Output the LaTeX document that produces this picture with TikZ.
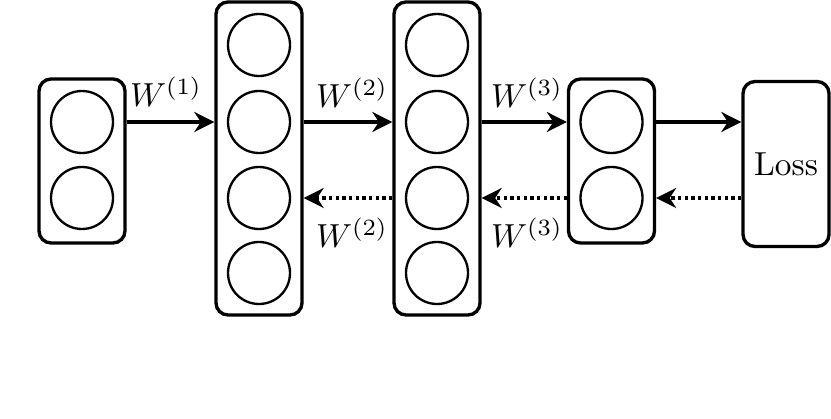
\documentclass[tikz,border=0pt]{standalone}
\usepackage{amsmath}
\usetikzlibrary{arrows.meta}

\begin{document}
\begin{tikzpicture}[
    x=0.3pt, y=-0.3pt,
    layer/.style={
        draw, line width=1pt, rounded corners=3.6pt,
        minimum width=25.8pt, minimum height=#1, inner sep=0pt,
    },
    unit/.style={draw, line width=0.7pt, circle, minimum size=18.6pt, inner sep=0pt},
    fwd/.style={-{Stealth[length=6pt, width=6pt]}, line width=1pt},
    bwd/.style={-{Stealth[length=6pt, width=6pt]}, line width=1pt, densely dotted},
    wlabel/.style={font=\normalsize},
]
\useasboundingbox (0,0) rectangle (831,419);

% ── Layer boxes ──
\node[layer=49.2pt] (l1) at (82, 161) {};
\node[layer=93.9pt] (l2) at (259, 158.5) {};
\node[layer=93.9pt] (l3) at (437, 158.5) {};
\node[layer=49.2pt] (l4) at (611.5, 161) {};

% Loss
\node[layer=49.5pt] (loss) at (786, 164) {Loss};

% ── Units ──
\node[unit] (u11) at (82, 122) {};
\node[unit] (u12) at (82, 198) {};

\node[unit] (u21) at (259, 45) {};
\node[unit] (u22) at (259, 122) {};
\node[unit] (u23) at (259, 198) {};
\node[unit] (u24) at (259, 273) {};

\node[unit] (u31) at (437, 45) {};
\node[unit] (u32) at (437, 122) {};
\node[unit] (u33) at (437, 198) {};
\node[unit] (u34) at (437, 273) {};

\node[unit] (u41) at (611.5, 122) {};
\node[unit] (u42) at (611.5, 198) {};

% ── Forward pass ──
\draw[fwd] (l1.east |- u11) -- (l2.west |- u11);
\draw[fwd] (l2.east |- u22) -- (l3.west |- u22);
\draw[fwd] (l3.east |- u32) -- (l4.west |- u32);
\draw[fwd] (l4.east |- u41) -- (loss.west |- u41);

% ── Backward pass ──
\draw[bwd] (loss.west |- u42) -- (l4.east |- u42);
\draw[bwd] (l4.west |- u42) -- (l3.east |- u42);
\draw[bwd] (l3.west |- u33) -- (l2.east |- u33);

% ── Weight labels ──
\node[wlabel] (w1) at (166, 92) {$W^{(1)}$};
\node[wlabel] (w2) at (352, 93) {$W^{(2)}$};
\node[wlabel] (w3) at (527, 93) {$W^{(3)}$};
\node[wlabel] (w2b) at (352, 233) {$W^{(2)}$};
\node[wlabel] (w3b) at (527, 233) {$W^{(3)}$};

\end{tikzpicture}
\end{document}
